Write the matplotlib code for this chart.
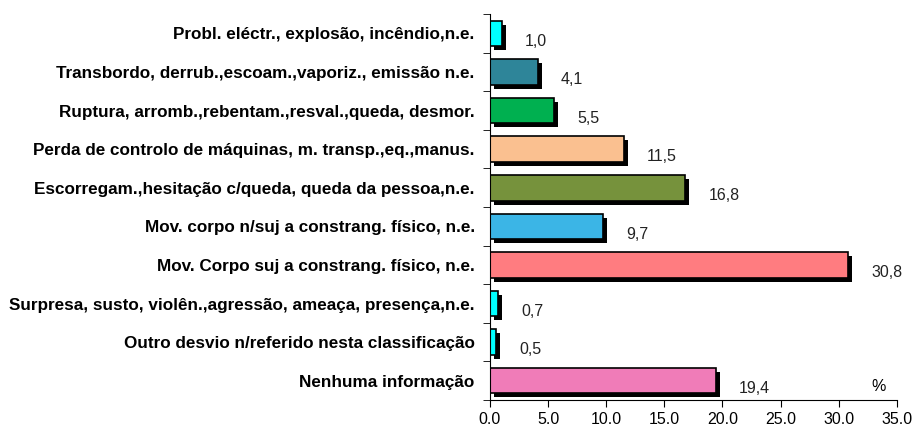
import matplotlib
matplotlib.use("Agg")
import matplotlib.pyplot as plt
import matplotlib.transforms as mtransforms
import numpy as np

categories = [
    "Probl. eléctr., explosão, incêndio,n.e.",
    "Transbordo, derrub.,escoam.,vaporiz., emissão n.e.",
    "Ruptura, arromb.,rebentam.,resval.,queda, desmor.",
    "Perda de controlo de máquinas, m. transp.,eq.,manus.",
    "Escorregam.,hesitação c/queda, queda da pessoa,n.e.",
    "Mov. corpo n/suj a constrang. físico, n.e.",
    "Mov. Corpo suj a constrang. físico, n.e.",
    "Surpresa, susto, violên.,agressão, ameaça, presença,n.e.",
    "Outro desvio n/referido nesta classificação",
    "Nenhuma informação",
]
values = [1.0, 4.1, 5.5, 11.5, 16.8, 9.7, 30.8, 0.7, 0.5, 19.4]
colors = ["#00FFFF", "#2E8599", "#00B050", "#FAC090", "#76923C",
          "#3BB5E6", "#FF7C80", "#00FFFF", "#00FFFF", "#F07CB8"]
xticks = [0, 5, 10, 15, 20, 25, 30, 35]

plt.rcParams['font.family'] = ['Liberation Sans', 'DejaVu Sans']

fig = plt.figure(figsize=(9.15, 4.28), dpi=100)
ax = fig.add_axes([0.5355, 0.0654, 0.4447, 0.9016])

y = np.arange(len(categories))
h = 0.66
shadow = mtransforms.offset_copy(ax.transData, fig=fig, x=4, y=-4, units='dots')
ax.barh(y, values, height=h, color='black', transform=shadow, zorder=1)
ax.barh(y, values, height=h, color=colors, edgecolor='black', linewidth=1.2, zorder=2)

for yi, v in zip(y, values):
    ax.text(v + 2.0, yi + 0.2, f"{v:.1f}".replace('.', ','), ha='left', va='center',
            fontsize=11.5, color='#222222')

ax.text(0.955, 0.035, "%", transform=ax.transAxes, fontsize=11.5, ha='center', va='center')

ax.set_ylim(len(categories) - 0.5, -0.5)
ax.set_xlim(0, 35)
ax.set_yticks(y)
ax.set_yticklabels(categories, fontsize=12.3, fontweight='bold')
ax.tick_params(axis='y', which='major', length=0, pad=11)
ax.set_yticks(np.arange(-0.5, len(categories), 1), minor=True)
ax.tick_params(axis='y', which='minor', length=5, direction='out')
ax.set_xticks(xticks)
ax.set_xticklabels([f"{t:.1f}" for t in xticks], fontsize=11.5)
ax.tick_params(axis='x', length=5, direction='out')
ax.spines['top'].set_visible(False)
ax.spines['right'].set_visible(False)

fig.savefig("out.png", dpi=100)
